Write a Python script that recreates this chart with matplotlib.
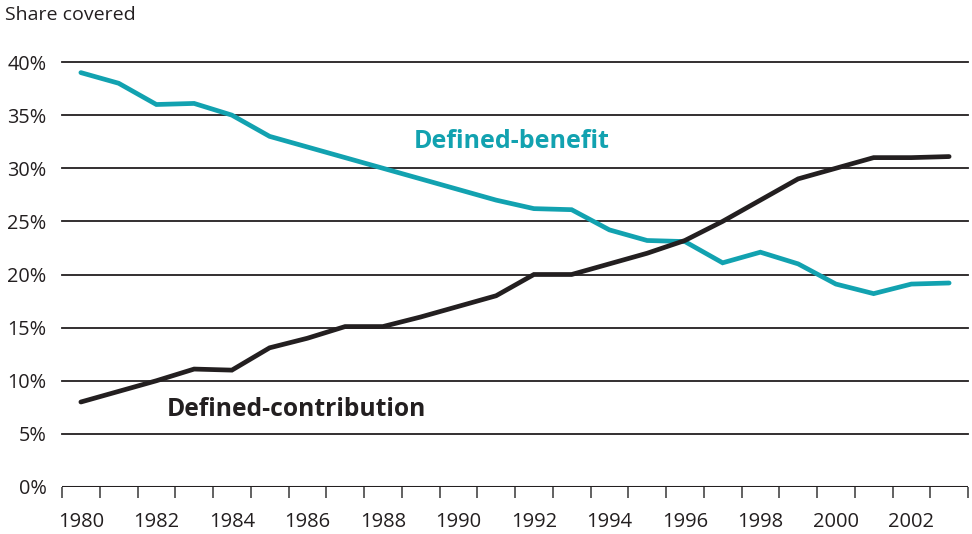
import numpy as np
import matplotlib.pyplot as plt
from matplotlib.ticker import FixedLocator, NullFormatter

plt.rcParams['font.family'] = ['Open Sans', 'DejaVu Sans']

# Share of private-sector workers covered, by plan type (percent)
years = list(range(1980, 2004))
defined_benefit = [39.0, 38.0, 36.0, 36.1, 35.0, 33.0, 32.0, 31.0, 30.0, 29.0, 28.0, 27.0,
                   26.2, 26.1, 24.2, 23.2, 23.1, 21.1, 22.1, 21.0, 19.1, 18.2, 19.1, 19.2]
defined_contribution = [8.0, 9.0, 10.0, 11.1, 11.0, 13.1, 14.0, 15.1, 15.1, 16.0, 17.0, 18.0,
                        20.0, 20.0, 21.0, 22.0, 23.2, 25.0, 27.0, 29.0, 30.0, 31.0, 31.0, 31.1]
y_ticks = [0, 5, 10, 15, 20, 25, 30, 35, 40]
x_labels = list(range(1980, 2004, 2))

teal = '#12a2b0'
ink = '#231f20'

fig = plt.figure(figsize=(9.72, 5.34), dpi=100)
ax = fig.add_axes([62 / 972, 1 - 487 / 534, 906 / 972, 425 / 534])

for y in y_ticks[1:]:
    ax.axhline(y, color=ink, lw=1.3, zorder=1, clip_on=False)
ax.axhline(0, color=ink, lw=2.2, zorder=1)

ax.plot(years, defined_benefit, color=teal, lw=3.4, solid_capstyle='round',
        solid_joinstyle='miter', zorder=3)
ax.plot(years, defined_contribution, color=ink, lw=3.4, solid_capstyle='round',
        solid_joinstyle='miter', zorder=3)

ax.set_xlim(years[0] - 0.5, years[-1] + 0.5)
ax.set_ylim(0, 40)

# year boundaries get tick marks, labels sit between them
ax.xaxis.set_major_locator(FixedLocator(x_labels))
ax.xaxis.set_minor_locator(FixedLocator(np.arange(years[0] - 0.5, years[-1] + 1, 1.0)))
ax.xaxis.set_minor_formatter(NullFormatter())
ax.tick_params(axis='x', which='major', length=0, pad=18, labelsize=14.5, labelcolor=ink)
ax.tick_params(axis='x', which='minor', length=8, width=1.3, color='#555555', direction='out')

ax.set_yticks(y_ticks)
ax.set_yticklabels([f'{v}%' for v in y_ticks])
ax.tick_params(axis='y', length=0, pad=11, labelsize=14.3, labelcolor=ink)

for s in ax.spines.values():
    s.set_visible(False)

fig.text(512 / 972, 1 - 142 / 534, 'Defined-benefit', color=teal, fontsize=18,
         fontweight='bold', ha='center', va='center')
fig.text(296 / 972, 1 - 410 / 534, 'Defined-contribution', color=ink, fontsize=17.7,
         fontweight='bold', ha='center', va='center')
fig.text(5 / 972, 1 - 15 / 534, 'Share covered', color=ink, fontsize=14,
         ha='left', va='center')

fig.savefig('out.png', dpi=100)
